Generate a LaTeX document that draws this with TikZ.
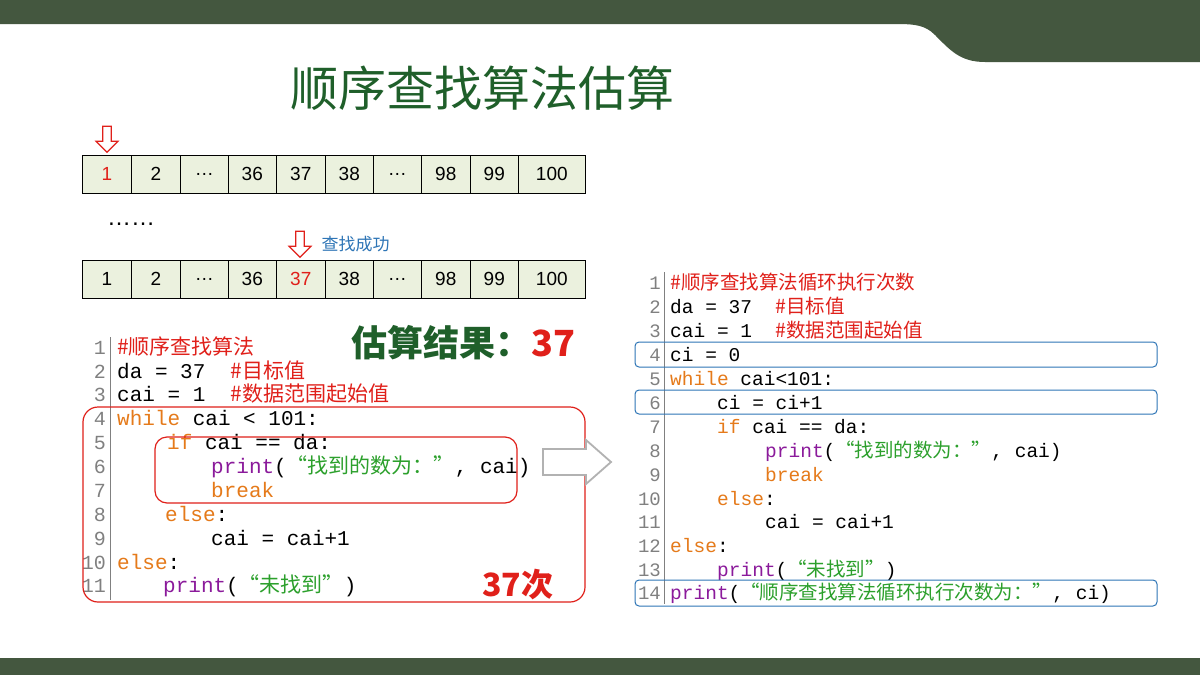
\documentclass[tikz,border=0pt]{standalone}
\usepackage{fontspec}
\setmainfont{Liberation Sans}
\setmonofont{Liberation Mono}
\newfontfamily\cjk{Noto Sans CJK SC}
\usetikzlibrary{shapes.arrows}
\definecolor{band}{HTML}{44573F}
\definecolor{ttl}{HTML}{1F5F2A}
\definecolor{cell}{HTML}{EBF1DE}
\definecolor{cmt}{HTML}{E0201A}
\definecolor{kw}{HTML}{E57A1A}
\definecolor{pr}{HTML}{8B1A9B}
\definecolor{st}{HTML}{2CA02C}
\definecolor{bx}{HTML}{2E75B6}
\newcommand{\Z}[1]{{\cjk #1}}
\tikzset{
 cellst/.style={draw=black,line width=0.6pt,fill=cell,minimum height=38pt,inner sep=0pt,anchor=west,font=\fontsize{19}{19}\selectfont},
 lcode/.style={anchor=base west,inner sep=0pt,font=\ttfamily\fontsize{21}{21}\selectfont},
 rcode/.style={anchor=base west,inner sep=0pt,font=\ttfamily\fontsize{19.5}{19.5}\selectfont},
 lnum/.style={anchor=base east,inner sep=0pt,text=gray,font=\ttfamily\fontsize{20}{20}\selectfont},
}
\begin{document}
\begin{tikzpicture}[x=1pt,y=-1pt]
\useasboundingbox (0,0) rectangle (1200,675);
\fill[white] (0,0) rectangle (1200,675);
\fill[band] (0,0) -- (1200,0) -- (1200,62) -- (985,62) .. controls (960,62) and (950,50) .. (935,35) .. controls (925,25) and (915,24) .. (895,24) -- (0,24) -- cycle;
\fill[band] (0,658) rectangle (1200,675);
\node[font=\cjk\fontsize{48}{48}\selectfont,text=ttl] (title) at (482,88) {顺序查找算法估算};
% arrays
\foreach \r/\y in {a/174,b/279}{
 \foreach \i/\xa/\xb/\t in {1/82/131/1,2/131/180/2,3/180/228/…,4/228/276/36,5/276/325/37,6/325/373/38,7/373/421/…,8/421/470/98,9/470/518/99,10/518/585/100}{
  \pgfmathsetmacro\w{\xb-\xa}
  \node[cellst,minimum width=\w pt] (\r\i) at (\xa,\y) {\t};
 }}
\node[cellst,minimum width=49pt,text=cmt] at (82,174) {1};
\node[cellst,minimum width=49pt,text=cmt] at (276,279) {37};
\node[draw=cmt,fill=white,line width=1.2pt,shape=single arrow,shape border rotate=270,minimum width=22pt,minimum height=26pt,single arrow head extend=4pt,inner sep=2pt] (ar1) at (107,137) {};
\node[draw=cmt,fill=white,line width=1.2pt,shape=single arrow,shape border rotate=270,minimum width=22pt,minimum height=26pt,single arrow head extend=4pt,inner sep=2pt] (ar2) at (300,242) {};
\node[anchor=west,font=\cjk\fontsize{17}{17}\selectfont,text=bx] (ok) at (318,244) {查找成功};
\node[font=\fontsize{24}{24}\selectfont] (dots) at (131,224) {……};
% left code
\draw[gray,line width=0.8pt] (110,337) -- (110,600);
\foreach \n/\y in {1/354,2/378,3/401,4/425,5/449,6/473,7/497,8/521,9/545,10/569,11/592}{\node[lnum] at (106,\y) {\n};}
\node[lcode,text=cmt] at (117,354) {\Z{\#顺序查找算法}};
\node[lcode] at (117,378) {da = 37~~\textcolor{cmt}{\Z{\#目标值}}};
\node[lcode] at (117,401) {cai = 1~~\textcolor{cmt}{\Z{\#数据范围起始值}}};
\node[lcode] at (117,425) {\textcolor{kw}{while} cai < 101:};
\node[lcode] at (167,449) {\textcolor{kw}{if} cai == da:};
\node[lcode] at (211,473) {\textcolor{pr}{print}(\textcolor{st}{\Z{“找到的数为：”}}, cai)};
\node[lcode,text=kw] at (211,497) {break};
\node[lcode] at (165,521) {\textcolor{kw}{else}:};
\node[lcode] at (211,545) {cai = cai+1};
\node[lcode] at (117,569) {\textcolor{kw}{else}:};
\node[lcode] at (163,592) {\textcolor{pr}{print}(\textcolor{st}{\Z{“未找到”}})};
\draw[cmt,line width=1.2pt,rounded corners=15pt] (83,407) rectangle (585,602);
\draw[cmt,line width=1.2pt,rounded corners=12pt] (155,437) rectangle (517,503);
\node[anchor=east,font=\cjk\bfseries\fontsize{32}{32}\selectfont,text=cmt] (n37) at (557,585) {37次};
\node[anchor=west,font=\cjk\bfseries\fontsize{36}{36}\selectfont,text=ttl] (res) at (348,343) {估算结果：\textcolor{cmt}{37}};
\draw[gray!60,line width=1.8pt,fill=white] (543,449) -- (586,449) -- (586,440) -- (611,462) -- (586,484) -- (586,475) -- (543,475) -- cycle;
% right code
\draw[gray,line width=0.8pt] (664,272) -- (664,604);
\foreach \n/\y in {1/289,2/313,3/337,4/361,5/385,6/409,7/433,8/457,9/481,10/505,11/528,12/552,13/576,14/599}{\node[lnum,font=\ttfamily\fontsize{19}{19}\selectfont] at (661,\y) {\n};}
\node[rcode,text=cmt] at (670,289) {\Z{\#顺序查找算法循环执行次数}};
\node[rcode] at (670,313) {da = 37~~\textcolor{cmt}{\Z{\#目标值}}};
\node[rcode] at (670,337) {cai = 1~~\textcolor{cmt}{\Z{\#数据范围起始值}}};
\node[rcode] at (670,361) {ci = 0};
\node[rcode] at (670,385) {\textcolor{kw}{while} cai<101:};
\node[rcode] at (717,409) {ci = ci+1};
\node[rcode] at (717,433) {\textcolor{kw}{if} cai == da:};
\node[rcode] at (765,457) {\textcolor{pr}{print}(\textcolor{st}{\Z{“找到的数为：”}}, cai)};
\node[rcode,text=kw] at (765,481) {break};
\node[rcode] at (717,505) {\textcolor{kw}{else}:};
\node[rcode] at (765,528) {cai = cai+1};
\node[rcode] at (670,552) {\textcolor{kw}{else}:};
\node[rcode] at (717,576) {\textcolor{pr}{print}(\textcolor{st}{\Z{“未找到”}})};
\node[rcode] at (670,599) {\textcolor{pr}{print}(\textcolor{st}{\Z{“顺序查找算法循环执行次数为：”}}, ci)};
\foreach \ya/\yb in {342/367,390/414,580/606}{\draw[bx,line width=1pt,rounded corners=4pt] (635,\ya) rectangle (1157,\yb);}
\end{tikzpicture}
\end{document}
